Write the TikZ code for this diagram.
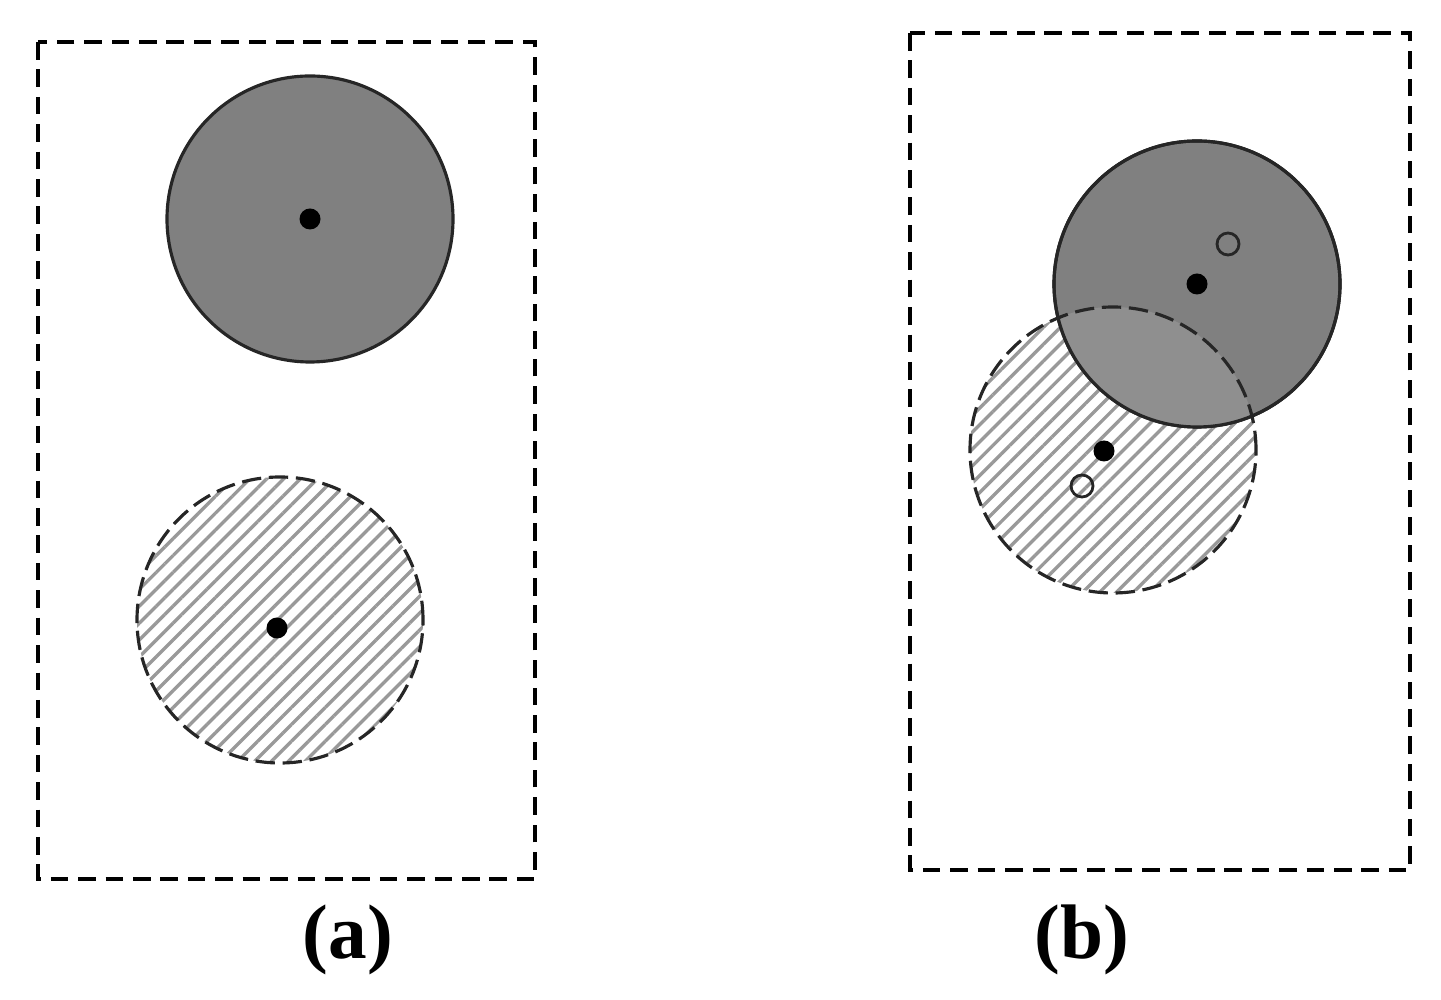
\documentclass[tikz,border=0pt]{standalone}
\usepackage{fontspec}
\setmainfont{Liberation Serif}
\usepackage{tikz}
\usetikzlibrary{patterns.meta}

\begin{document}
\begin{tikzpicture}[
    frame/.style={
        draw,
        line width=0.9pt,
        dash pattern=on 5pt off 2.8pt
    },
    disc/.style={
        circle,
        draw=black!85,
        line width=0.9pt,
        fill=gray,
        minimum size=2.86cm,
        inner sep=0pt
    },
    hatched/.style={
        circle,
        draw=black!85,
        line width=0.9pt,
        dash pattern=on 5.5pt off 2.2pt,
        pattern={Lines[angle=45,distance=3.4pt,line width=0.95pt]},
        pattern color=gray!80,
        minimum size=2.86cm,
        inner sep=0pt
    },
    centre/.style={
        circle,
        fill=black,
        minimum size=0.21cm,
        inner sep=0pt
    },
    hollow/.style={
        circle,
        draw=black!85,
        line width=0.8pt,
        minimum size=0.22cm,
        inner sep=0pt
    },
    caption/.style={
        font=\fontsize{22}{26}\selectfont\bfseries
    }
]
\useasboundingbox (0,0) rectangle (14.41,9.99);

% (a)
\draw[frame] (0.38,9.57) rectangle (5.35,1.20);

\node[disc] (topA) at (3.10,7.80) {};
\node[centre] (dotTopA) at (topA.center) {};

\node[hatched] (lowA) at (2.80,3.79) {};
\node[centre] (dotLowA) at (2.77,3.71) {};

\node[caption] (capA) at (3.48,0.59) {(a)};

% (b)
\draw[frame] (9.10,9.66) rectangle (14.10,1.29);

\node[hatched] (lowB) at (11.13,5.49) {};
\node[disc] (topB) at (11.97,7.15) {};

% lighter overlap with the dashed rim showing through
\begin{scope}
\clip (topB.center) circle (1.43);
\fill[gray!88] (lowB.center) circle (1.43);
\draw[draw=black!85, line width=0.9pt, dash pattern=on 5.5pt off 2.2pt] (lowB.center) circle (1.43);
\end{scope}
\draw[draw=black!85, line width=0.9pt] (topB.center) circle (1.43);

\node[centre] (dotTopB) at (topB.center) {};
\node[hollow] (oldTopB) at (12.28,7.55) {};
\node[centre] (dotLowB) at (11.04,5.48) {};
\node[hollow] (oldLowB) at (10.82,5.13) {};

\node[caption] (capB) at (10.82,0.59) {(b)};

\end{tikzpicture}
\end{document}
